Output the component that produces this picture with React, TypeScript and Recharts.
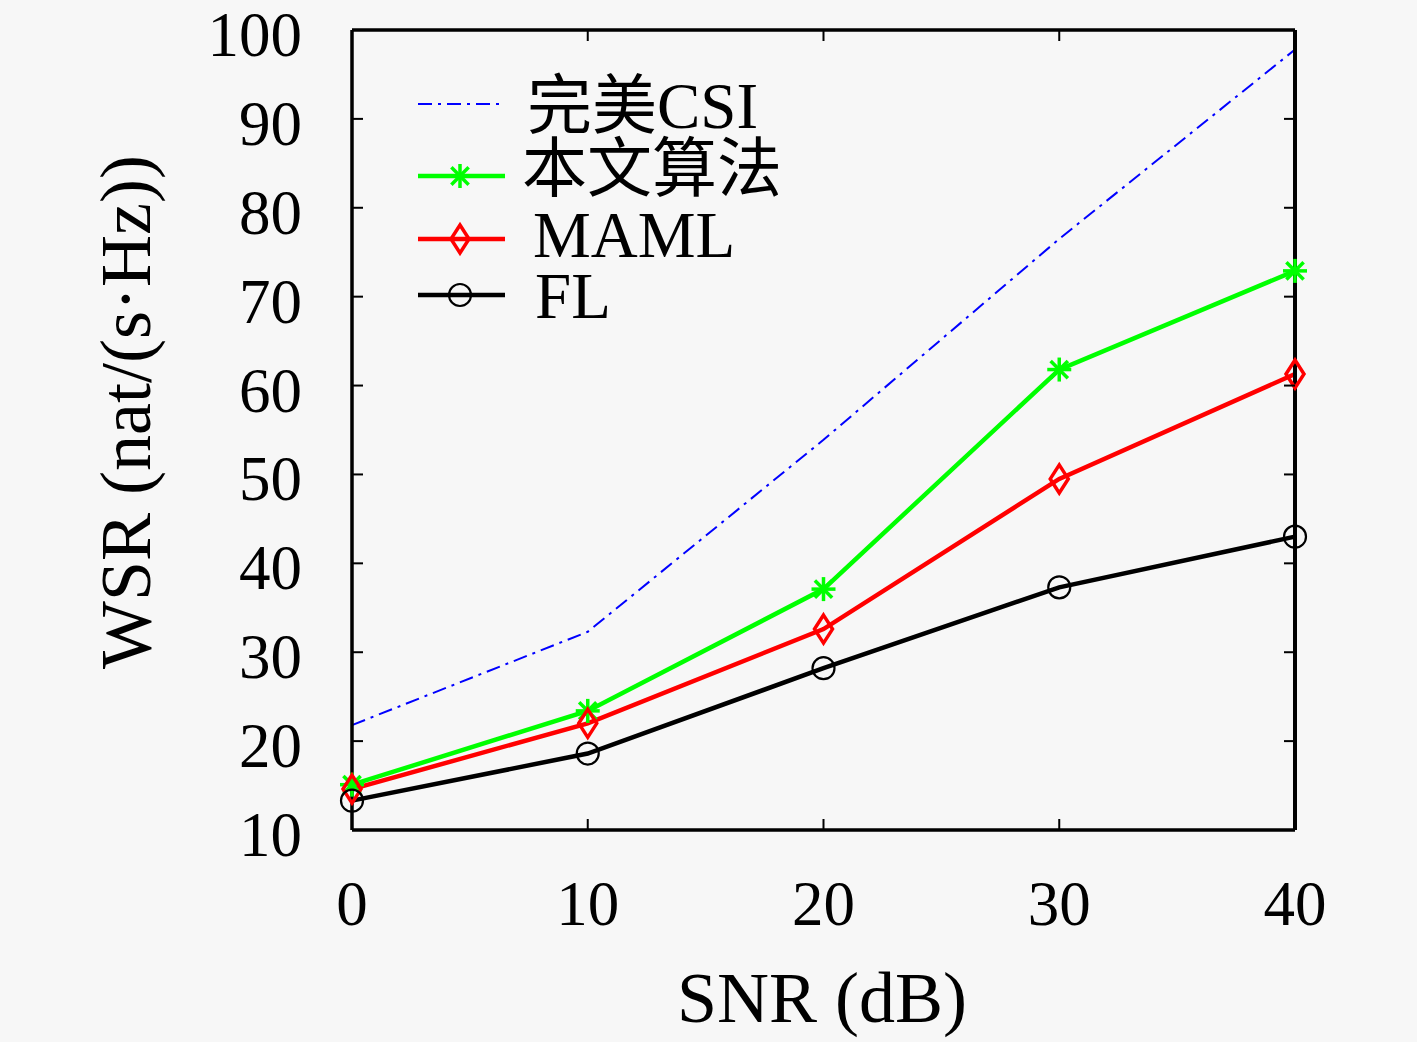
import { LineChart, Line, XAxis, YAxis, Legend } from 'recharts';

const snr = [0, 10, 20, 30, 40];
const perfectCsi = [21.8, 32.3, 53.9, 76.5, 97.8];
const proposed = [15.1, 23.4, 37.1, 61.8, 72.9];
const maml = [14.6, 22.0, 32.6, 49.5, 61.3];
const fl = [13.3, 18.6, 28.2, 37.3, 43.0];
const xTicks = [0, 10, 20, 30, 40];
const yTicks = [10, 20, 30, 40, 50, 60, 70, 80, 90, 100];

const data = snr.map((s, i) => ({
  snr: s,
  perfect: perfectCsi[i],
  proposed: proposed[i],
  maml: maml[i],
  fl: fl[i],
}));

const FONT = '"Liberation Serif", "Noto Sans CJK SC", serif';
const BG = '#f7f7f7';
const DASH = '14 6 3 6';

const Asterisk = ({ cx, cy }: { cx: number; cy: number }) => {
  const r = 12;
  const d = r * 0.72;
  return (
    <g stroke="#00ff00" strokeWidth={3.5}>
      <line x1={cx - r} y1={cy} x2={cx + r} y2={cy} />
      <line x1={cx} y1={cy - r} x2={cx} y2={cy + r} />
      <line x1={cx - d} y1={cy - d} x2={cx + d} y2={cy + d} />
      <line x1={cx - d} y1={cy + d} x2={cx + d} y2={cy - d} />
    </g>
  );
};

const Diamond = ({ cx, cy }: { cx: number; cy: number }) => (
  <polygon
    points={`${cx},${cy - 14} ${cx + 9},${cy} ${cx},${cy + 14} ${cx - 9},${cy}`}
    fill="none"
    stroke="#ff0000"
    strokeWidth={3.5}
  />
);

const Circle = ({ cx, cy }: { cx: number; cy: number }) => (
  <circle cx={cx} cy={cy} r={11} fill="none" stroke="#000" strokeWidth={2.2} />
);

const LeftTick = ({ x, y, payload }: any) => (
  <g>
    <line x1={x} x2={x + 11} y1={y} y2={y} stroke="#000" strokeWidth={2} />
    <text x={x - 50} y={y + 26} textAnchor="end" fontFamily={FONT} fontSize={63} fill="#000">
      {payload.value}
    </text>
  </g>
);

const RightTick = ({ x, y }: any) => (
  <line x1={x - 11} x2={x} y1={y} y2={y} stroke="#000" strokeWidth={2} />
);

const BottomTick = ({ x, y, payload }: any) => (
  <g>
    <line x1={x} x2={x} y1={y} y2={y - 11} stroke="#000" strokeWidth={2} />
    <text x={x} y={y + 95} textAnchor="middle" fontFamily={FONT} fontSize={63} fill="#000">
      {payload.value}
    </text>
  </g>
);

const TopTick = ({ x, y }: any) => (
  <line x1={x} x2={x} y1={y} y2={y + 11} stroke="#000" strokeWidth={2} />
);

const legendRows = [
  { label: '完美CSI', color: '#0000ff', width: 2, dash: DASH, marker: null, y: 44, tx: 127, ty: 68 },
  { label: '本文算法', color: '#00ff00', width: 4.5, dash: undefined, marker: Asterisk, y: 116, tx: 122, ty: 131 },
  { label: 'MAML', color: '#ff0000', width: 4.5, dash: undefined, marker: Diamond, y: 179, tx: 133, ty: 197 },
  { label: 'FL', color: '#000000', width: 4.5, dash: undefined, marker: Circle, y: 235, tx: 135, ty: 258 },
];

const LegendBox = () => (
  <svg width={420} height={280} style={{ display: 'block' }}>
    {legendRows.map((row) => {
      const M = row.marker;
      return (
        <g key={row.label}>
          <line x1={18} x2={105} y1={row.y} y2={row.y} stroke={row.color} strokeWidth={row.width} strokeDasharray={row.dash} />
          {M && <M cx={60} cy={row.y} />}
          <text x={row.tx} y={row.ty} fontFamily={FONT} fontSize={65} fill="#000">
            {row.label}
          </text>
        </g>
      );
    })}
  </svg>
);

const App = () => {
  return (
    <div style={{ position: 'absolute', left: 0, top: 0, width: 1417, height: 1042, background: BG, overflow: 'hidden' }}>
      <LineChart
        width={1417}
        height={1042}
        data={data}
        margin={{ top: 29, right: 121, bottom: 211, left: 351 }}
      >
        <XAxis
          dataKey="snr"
          type="number"
          domain={[0, 40]}
          ticks={xTicks}
          height={1}
          tickSize={0}
          tickMargin={0}
          tickLine={false}
          tick={BottomTick}
          axisLine={{ stroke: '#000', strokeWidth: 3.5 }}
        />
        <XAxis
          xAxisId="top"
          dataKey="snr"
          orientation="top"
          type="number"
          domain={[0, 40]}
          ticks={xTicks}
          height={1}
          tickSize={0}
          tickMargin={0}
          tickLine={false}
          tick={TopTick}
          axisLine={{ stroke: '#000', strokeWidth: 3.5 }}
        />
        <YAxis
          type="number"
          domain={[10, 100]}
          ticks={yTicks}
          width={1}
          tickSize={0}
          tickMargin={0}
          tickLine={false}
          tick={LeftTick}
          axisLine={{ stroke: '#000', strokeWidth: 3.5 }}
        />
        <YAxis
          yAxisId="right"
          orientation="right"
          type="number"
          domain={[10, 100]}
          ticks={yTicks}
          width={1}
          tickSize={0}
          tickMargin={0}
          tickLine={false}
          tick={RightTick}
          axisLine={{ stroke: '#000', strokeWidth: 4 }}
        />
        <Legend
          layout="vertical"
          align="center"
          verticalAlign="middle"
          content={LegendBox}
          wrapperStyle={{ left: 400, top: 60, width: 420, height: 280 }}
        />
        <Line
          xAxisId="top"
          yAxisId="right"
          dataKey="perfect"
          stroke="#0000ff"
          strokeWidth={2}
          strokeDasharray={DASH}
          dot={false}
          isAnimationActive={false}
        />
        <Line
          dataKey="proposed"
          stroke="#00ff00"
          strokeWidth={4.5}
          dot={(p: any) => <Asterisk key={`a-${p.index}`} cx={p.cx} cy={p.cy} />}
          isAnimationActive={false}
        />
        <Line
          dataKey="maml"
          stroke="#ff0000"
          strokeWidth={4.5}
          dot={(p: any) => <Diamond key={`d-${p.index}`} cx={p.cx} cy={p.cy} />}
          isAnimationActive={false}
        />
        <Line
          dataKey="fl"
          stroke="#000000"
          strokeWidth={4.5}
          dot={(p: any) => <Circle key={`c-${p.index}`} cx={p.cx} cy={p.cy} />}
          isAnimationActive={false}
        />
      </LineChart>
      <svg
        width={1417}
        height={1042}
        style={{ position: 'absolute', left: 0, top: 0, pointerEvents: 'none' }}
      >
        <text x={822} y={1022} textAnchor="middle" fontFamily={FONT} fontSize={72} fill="#000">
          SNR (dB)
        </text>
        <text
          x={0}
          y={0}
          transform="translate(150, 412) rotate(-90)"
          textAnchor="middle"
          fontFamily={FONT}
          fontSize={72}
          fill="#000"
        >
          WSR (nat/(s·Hz))
        </text>
      </svg>
    </div>
  );
};

export default App;
